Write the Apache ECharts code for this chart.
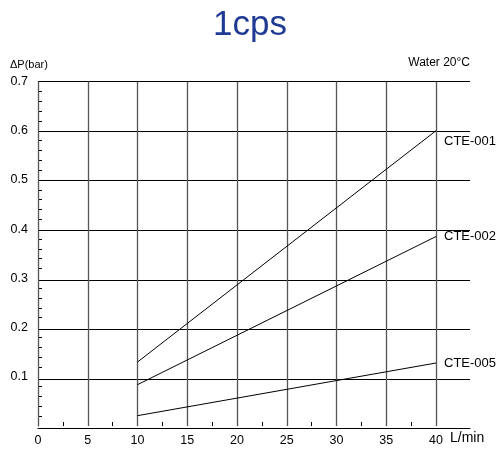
<!DOCTYPE html>
<html><head><meta charset="utf-8">
<script src="https://cdn.jsdelivr.net/npm/echarts@6/dist/echarts.min.js"></script>
<style>html,body{margin:0;padding:0;background:#fff}#c{width:500px;height:450px}</style>
</head><body><div id="c"></div>
<script>
var flow = [10, 40];
var cte001 = [0.13, 0.6];
var cte002 = [0.084, 0.385];
var cte005 = [0.021, 0.128];
var seriesNames = ['CTE-001', 'CTE-002', 'CTE-005'];
var seriesValues = [cte001, cte002, cte005];

var FONT = '"Liberation Sans", Arial, Helvetica, sans-serif';
var chart = echarts.init(document.getElementById('c'));
var labelOffsets = [[0, 11], [0, 0], [0, 0]];

var series = seriesNames.map(function (n, i) {
  return {
    name: n, type: 'line', xAxisIndex: 0, yAxisIndex: 0,
    data: flow.map(function (x, j) { return [x, seriesValues[i][j]]; }),
    showSymbol: false, symbol: 'none', silent: true,
    lineStyle: { color: '#000', width: 1 },
    endLabel: { show: true, formatter: '{a}', color: '#000', fontSize: 13, fontFamily: FONT,
      distance: 8, offset: labelOffsets[i] },
    z: 5
  };
});

chart.setOption({
  animation: false,
  title: { text: '1cps', left: 'center', top: 3,
    textStyle: { color: '#1f3a93', fontSize: 35, fontWeight: 'normal', fontFamily: FONT } },
  grid: [
    { left: 38, right: 64, top: 81.5, bottom: 21.5, containLabel: false },
    { left: 38, right: 30, top: 81.5, bottom: 21.5, containLabel: false }
  ],
  xAxis: [
    { gridIndex: 0, type: 'value', min: 0, max: 40, interval: 5,
      name: 'L/min', nameLocation: 'end', nameGap: 14,
      nameTextStyle: { color: '#000', fontSize: 14, fontFamily: FONT, align: 'left', verticalAlign: 'top', lineHeight: 24 },
      axisLine: { show: false },
      axisTick: { show: false, inside: true },
      minorTick: { show: true, splitNumber: 2, length: 4, lineStyle: { color: '#000', width: 1 } },
      axisLabel: { color: '#000', fontSize: 12.5, fontFamily: FONT, margin: 8 },
      splitLine: { show: true, lineStyle: { color: '#555', width: 1.3 } },
      z: 3 },
    { gridIndex: 1, type: 'value', min: 0, max: 1,
      axisLine: { show: true, lineStyle: { color: '#000', width: 1 } },
      axisTick: { show: false }, axisLabel: { show: false }, splitLine: { show: false } }
  ],
  yAxis: [
    { gridIndex: 0, type: 'value', min: 0, max: 0.7, interval: 0.1,
      axisLine: { show: true, lineStyle: { color: '#000', width: 1 } },
      axisTick: { show: false, inside: true },
      minorTick: { show: true, splitNumber: 5, length: 4, lineStyle: { color: '#000', width: 1 } },
      axisLabel: { color: '#000', fontSize: 12.5, fontFamily: FONT, margin: 10,
        formatter: function (v) { return v === 0 ? '' : v.toFixed(1); } },
      splitLine: { show: false } },
    { gridIndex: 1, type: 'value', min: 0, max: 0.7, interval: 0.1,
      axisLine: { show: false }, axisTick: { show: false }, axisLabel: { show: false },
      splitLine: { show: true, lineStyle: { color: '#000', width: 1 } } }
  ],
  graphic: [
    { type: 'text', left: 10, top: 59, style: { text: 'ΔP(bar)', fontSize: 11, fontFamily: FONT, fill: '#000' } },
    { type: 'text', right: 30, top: 57, style: { text: 'Water 20°C', fontSize: 12, fontFamily: FONT, fill: '#000' } }
  ],
  series: series
});
</script></body></html>
